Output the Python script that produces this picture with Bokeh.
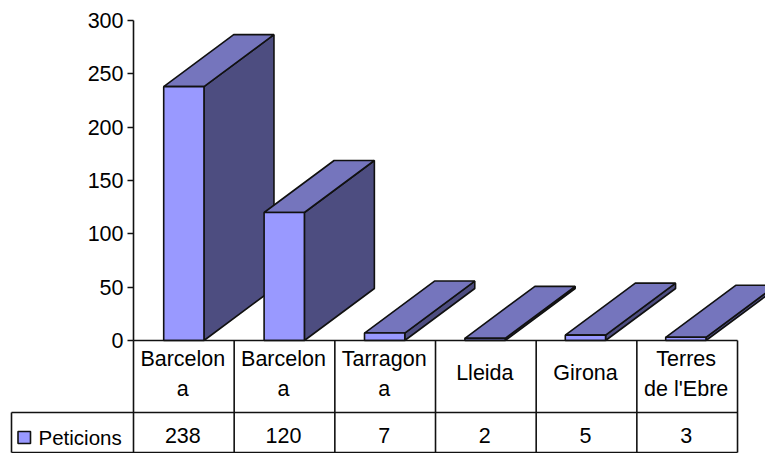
from bokeh.plotting import figure
from bokeh.models import LinearAxis, FixedTicker, Range1d, ColumnDataSource
from bokeh.core.properties import value
from bokeh.embed import file_html
from bokeh.resources import INLINE

categories = ["Barcelona 1", "Barcelona 2", "Tarragona", "Lleida", "Girona", "Terres de l'Ebre"]
label_lines = [["Barcelon", "a"], ["Barcelon", "a"], ["Tarragon", "a"], ["Lleida"], ["Girona"], ["Terres", "de l'Ebre"]]
values = [238, 120, 7, 2, 5, 3]
series_name = "Peticions"
y_ticks = [0, 50, 100, 150, 200, 250, 300]

FONT = "Liberation Sans"
FS = "21.5px"
FS_NAME = "20.5px"
INK = "#111111"
FRONT, TOP, SIDE = "#9999FF", "#7575BD", "#4D4D80"
W, H = 765, 453
SLOT = 100.67          # px per category
BAR_STEP = 100.4 / SLOT
PX_PER_UNIT = 320 / 300
X0, Y0 = 133, 340      # picture px of the origin
TEXT_SHIFT = 8         # the text glyph sits this far below its anchor
TEXT_NUDGE = 1 / SLOT

def ux(px):  # picture px -> x data
    return (px - X0) / SLOT
def uy(py):  # picture py -> y data
    return (Y0 - py) / PX_PER_UNIT

p = figure(width=W, height=H, output_backend="svg", toolbar_location=None,
           x_range=Range1d(ux(0), ux(W)), y_range=Range1d(uy(H), uy(0)),
           x_axis_location=None, y_axis_location=None,
           min_border=0, min_border_left=0, min_border_right=0, min_border_top=0, min_border_bottom=0)
p.outline_line_color = None
p.grid.visible = False

# 3D bars
dx = 70 / SLOT
dy = 52 / PX_PER_UNIT
lw = 1.6
for i, v in enumerate(values):
    l, r = i * BAR_STEP + 0.3, i * BAR_STEP + 0.7
    p.patch([r, r + dx, r + dx, r], [0, dy, v + dy, v], fill_color=SIDE, line_color=INK, line_width=lw)
    p.patch([l, r, r + dx, l + dx], [v, v, v + dy, v + dy], fill_color=TOP, line_color=INK, line_width=lw)
    p.patch([l, r, r, l], [0, 0, v, v], fill_color=FRONT, line_color=INK, line_width=lw)

# y axis
axis = LinearAxis(fixed_location=0, ticker=FixedTicker(ticks=y_ticks), bounds=(0, 300))
axis.axis_line_color = INK
axis.axis_line_width = lw
axis.major_tick_line_color = INK
axis.major_tick_line_width = lw
axis.major_tick_out = 6
axis.major_tick_in = 0
axis.minor_tick_line_color = None
axis.major_label_text_font = FONT
axis.major_label_text_font_size = FS
axis.major_label_text_color = "#000000"
axis.major_label_standoff = 4
p.add_layout(axis, "left")

# data table
n = len(categories)
row1, row2 = uy(412), uy(452)
x_left = ux(11)
seg_x0, seg_y0, seg_x1, seg_y1 = [], [], [], []
for i in range(n + 1):
    seg_x0.append(i); seg_y0.append(0); seg_x1.append(i); seg_y1.append(row2)
for y in (row1, row2):
    seg_x0.append(x_left); seg_y0.append(y); seg_x1.append(n); seg_y1.append(y)
seg_x0.append(0); seg_y0.append(0); seg_x1.append(n); seg_y1.append(0)
seg_x0.append(x_left); seg_y0.append(row1); seg_x1.append(x_left); seg_y1.append(row2)
p.segment(seg_x0, seg_y0, seg_x1, seg_y1, line_color=INK, line_width=lw)

# table texts
tx, ty, tt = [], [], []
for i, lines in enumerate(label_lines):
    base = [380] if len(lines) == 1 else [366, 396]
    for line, b in zip(lines, base):
        tx.append(i + 0.5 - TEXT_NUDGE); ty.append(uy(b - TEXT_SHIFT)); tt.append(line)
for i, v in enumerate(values):
    tx.append(i + 0.5 - TEXT_NUDGE); ty.append(uy(443 - TEXT_SHIFT)); tt.append(str(v))
src = ColumnDataSource(dict(x=tx, y=ty, t=tt))
p.text("x", "y", text="t", source=src, text_align="center", text_baseline="alphabetic",
       text_font=value(FONT), text_font_size=value(FS), text_color="#000000")

# legend key and series name
p.quad(left=[ux(17.5)], right=[ux(30)], top=[uy(431)], bottom=[uy(443)],
       fill_color=FRONT, line_color=INK, line_width=lw)
p.text([ux(38)], [uy(445 - TEXT_SHIFT)], text=[series_name], text_align="left", text_baseline="alphabetic",
       text_font=value(FONT), text_font_size=value(FS_NAME), text_color="#000000")

open("out.html", "w").write(file_html(p, INLINE))
